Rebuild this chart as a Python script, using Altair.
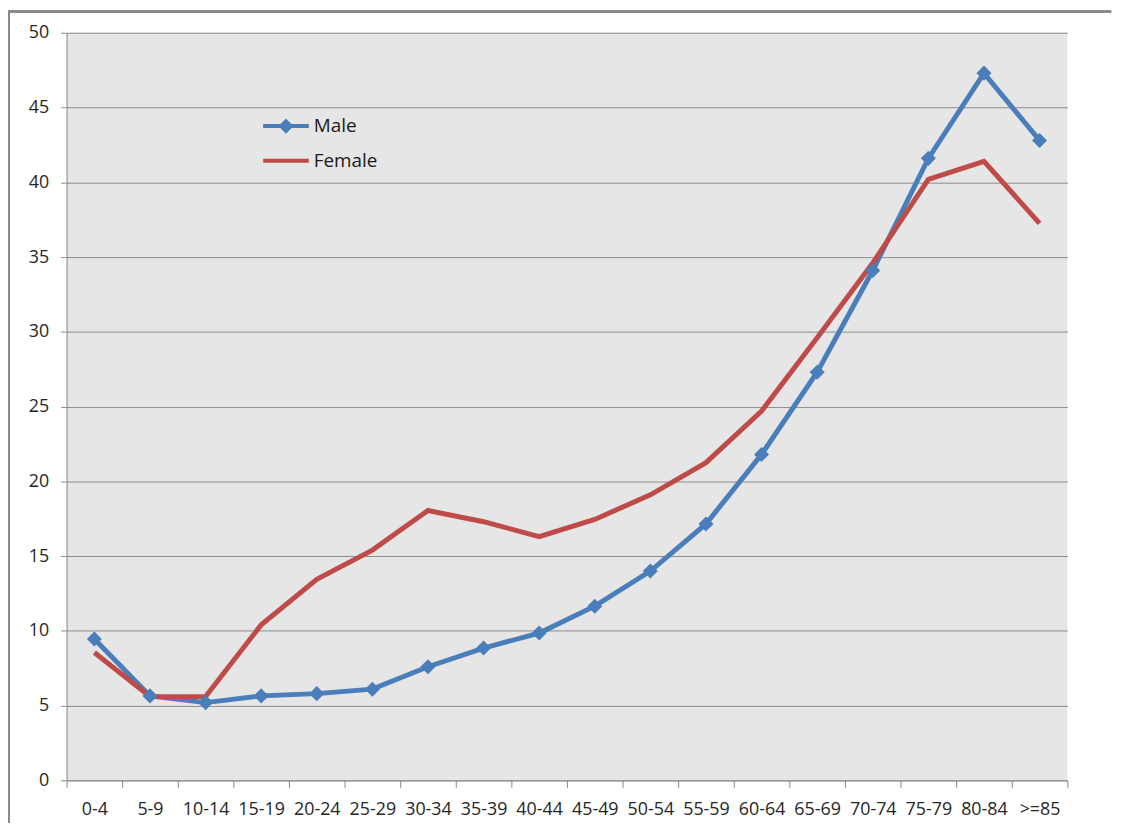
import json
import altair as alt
import pandas as pd

categories = ["0-4", "5-9", "10-14", "15-19", "20-24", "25-29", "30-34", "35-39", "40-44",
              "45-49", "50-54", "55-59", "60-64", "65-69", "70-74", "75-79", "80-84", ">=85"]
male = [9.45, 5.65, 5.2, 5.65, 5.8, 6.1, 7.6, 8.85, 9.85, 11.65, 14.0, 17.15, 21.8, 27.3,
        34.1, 41.6, 47.3, 42.8]
female = [8.55, 5.6, 5.6, 10.4, 13.45, 15.4, 18.05, 17.3, 16.3, 17.45, 19.1, 21.25, 24.7,
          29.6, 34.6, 40.2, 41.4, 37.25]
series = ["Male", "Female"]
colors = ["#4A7EBB", "#BE4B48"]

rows = []
for i, c in enumerate(categories):
    rows.append({"cat": c, "pos": i + 0.5, "value": male[i], "series": "Male"})
    rows.append({"cat": c, "pos": i + 0.5, "value": female[i], "series": "Female"})
df = pd.DataFrame(rows)

FONT = "Open Sans"
n = len(categories)
cats_js = json.dumps(categories)

x_enc = alt.X("pos:Q",
              scale=alt.Scale(domain=[0, n], nice=False, zero=False),
              axis=alt.Axis(values=list(range(n + 1)), title=None, grid=False,
                            labelExpr=f"datum.value < {n} ? {cats_js}[datum.value] : ''",
                            labelOffset=28, labelPadding=13, tickSize=7,
                            tickColor="#888888", domainColor="#888888",
                            labelFont=FONT, labelFontSize=18, labelColor="#262626",
                            labelOverlap=False, labelBound=False, labelFlush=False))
y_enc = alt.Y("value:Q",
              scale=alt.Scale(domain=[0, 50], nice=False),
              axis=alt.Axis(values=list(range(0, 51, 5)), title=None, grid=True,
                            gridColor="#8C8C8C", gridWidth=1, tickSize=6,
                            tickColor="#888888", domainColor="#888888",
                            labelPadding=12, labelFont=FONT, labelFontSize=18,
                            labelColor="#262626"))

color_scale = alt.Scale(domain=series, range=colors)

male_sym = "M-2,0L2,0M0,-0.42L0.42,0L0,0.42L-0.42,0Z"
female_sym = "M-2,0L2,0"
legend = alt.Legend(title=None, orient="none", legendX=207.5, legendY=80.5, padding=0,
                    symbolSize=529, symbolStrokeWidth=4, symbolOpacity=1,
                    labelFont=FONT, labelFontSize=19, labelColor="#1a1a1a",
                    labelOffset=14.5, rowPadding=8)

lines = alt.Chart(df).mark_line(strokeWidth=5, strokeJoin="miter").encode(
    x=x_enc, y=y_enc,
    color=alt.Color("series:N", scale=color_scale, legend=legend),
    detail="series:N",
)

points = alt.Chart(df).transform_filter("datum.series == 'Male'").mark_point(
    shape="diamond", filled=True, size=230, opacity=1
).encode(
    x=x_enc, y=y_enc,
    color=alt.Color("series:N", scale=color_scale, legend=legend),
)

legend_layer = alt.Chart(df).mark_point(filled=True, opacity=0).encode(
    x=x_enc, y=y_enc,
    fill=alt.Fill("series:N", scale=color_scale, legend=legend),
    shape=alt.Shape("series:N", scale=alt.Scale(domain=series, range=[male_sym, female_sym]),
                    legend=legend),
)

frame_top = alt.Chart(df).mark_rule(color="#8A8A8A", strokeWidth=1.5).encode(
    x=alt.value(-60), x2=alt.value(1052), y=alt.value(-21.5))
frame_left = alt.Chart(df).mark_rule(color="#8A8A8A", strokeWidth=1.5).encode(
    x=alt.value(-58.5), y=alt.value(-22), y2=alt.value(800))

chart = alt.layer(lines, points, legend_layer, frame_top, frame_left).properties(
    width=1008, height=753,
    autosize=alt.AutoSizeParams(type="none"),
    padding={"left": 59, "top": 22, "right": 50, "bottom": 40},
).configure_view(fill="#E6E6E6", stroke=None)

chart.save("out.html", embed_options={"renderer": "svg", "actions": False})
